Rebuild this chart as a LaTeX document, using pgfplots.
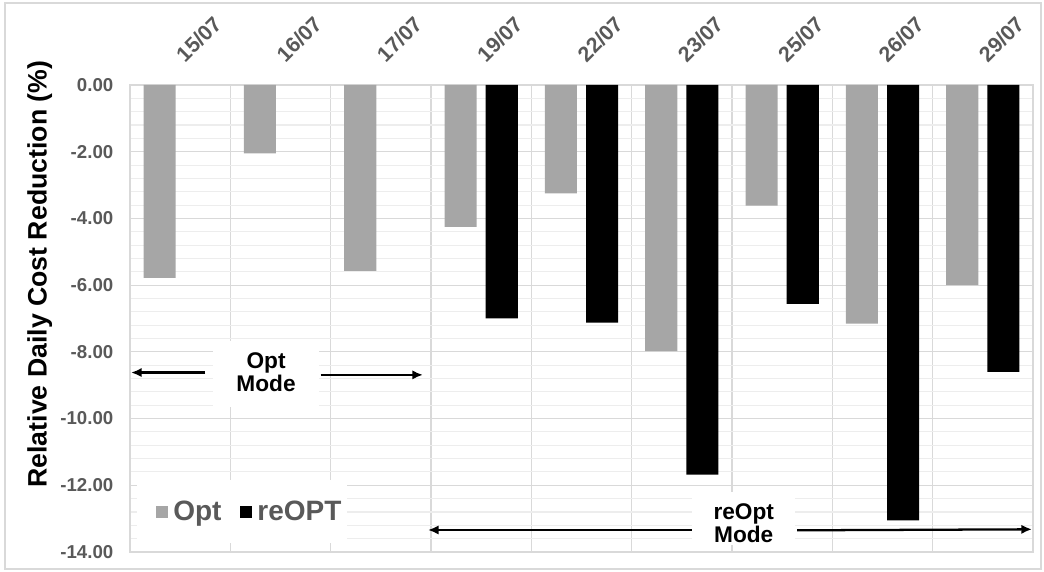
\documentclass[border=0pt]{standalone}
\usepackage{fontspec}
\setmainfont{Liberation Sans}
\usepackage{pgfplots}
\pgfplotsset{compat=1.18}
\usetikzlibrary{arrows.meta}
\definecolor{optgray}{HTML}{A6A6A6}
\definecolor{gridmaj}{HTML}{D9D9D9}
\definecolor{gridmin}{HTML}{EDEDED}
\definecolor{labgray}{HTML}{595959}
\begin{document}
\begin{tikzpicture}
\useasboundingbox (-97.5pt,-14.25pt) rectangle (685.5pt,414pt);
\draw[gridmaj, line width=0.8pt] (-93.75pt,-12.75pt) rectangle (683.25pt,411.75pt);
\begin{axis}[
  at={(0,0)}, anchor=south west,
  scale only axis, width=677.25pt, height=350.25pt,
  xmin=-0.5, xmax=8.5, ymin=-14, ymax=0,
  clip=false,
  axis line style={draw=gridmaj, line width=0.8pt},
  ybar, bar width=0.32,
  xtick={0,...,8},
  xticklabels={15/07,16/07,17/07,19/07,22/07,23/07,25/07,26/07,29/07},
  xticklabel pos=upper,
  xticklabel style={xshift=4pt, yshift=11pt, rotate=45, anchor=south west, font=\bfseries\fontsize{16}{18}\selectfont, text=labgray},
  minor xtick={-0.5,0.5,...,8.5},
  xminorgrids=true, xmajorgrids=false,
  ytick={-14,-12,...,0},
  yticklabels={-14.00,-12.00,-10.00,-8.00,-6.00,-4.00,-2.00,0.00},
  yticklabel style={font=\bfseries\fontsize{14}{16}\selectfont, text=labgray, xshift=-9pt},
  minor y tick num=4,
  ymajorgrids=true, yminorgrids=true,
  major grid style={draw=gridmaj, line width=0.8pt},
  minor grid style={draw=gridmin, line width=0.8pt},
  minor x grid style={draw=gridmaj, line width=0.8pt},
  major tick length=0pt, minor tick length=0pt,
  legend columns=2,
  legend style={at={(rel axis cs:0.024,0.0857)}, anchor=west, draw=none, fill=none,
    font=\bfseries\fontsize{21}{23}\selectfont, text=labgray,
    /tikz/every odd column/.append style={column sep=2pt},
    /tikz/every even column/.append style={column sep=12pt}},
]
\addplot[fill=optgray, draw=none, bar shift=-0.205,
  legend image code/.code={\fill[optgray] (0pt,-4.5pt) rectangle (9pt,4.5pt);}]
  coordinates {(0,-5.78) (1,-2.05) (2,-5.57) (3,-4.25) (4,-3.25) (5,-7.98) (6,-3.62) (7,-7.15) (8,-6.0)};
\addlegendentry{Opt}
\addplot[fill=black, draw=none, bar shift=0.205,
  legend image code/.code={\fill[black] (0pt,-4.5pt) rectangle (9pt,4.5pt);}]
  coordinates {(3,-7.0) (4,-7.12) (5,-11.68) (6,-6.56) (7,-13.05) (8,-8.6)};
\addlegendentry{reOPT}
% white boxes
\fill[white] (axis cs:-0.43,-11.84) rectangle (axis cs:1.663,-13.73);
\fill[white] (axis cs:0.327,-7.67) rectangle (axis cs:1.384,-9.65);
\fill[white] (axis cs:5.10,-12.2) rectangle (axis cs:6.13,-13.79);
% annotations
\node[font=\bfseries\fontsize{17}{17.5}\selectfont, align=center] at (axis cs:0.856,-8.6) {Opt\\Mode};
\draw[-{Latex[length=8pt,width=7pt]}, line width=1.7pt] (axis cs:0.25,-8.62) -- (axis cs:-0.49,-8.62);
\draw[-{Latex[length=8pt,width=7pt]}, line width=1.7pt] (axis cs:1.40,-8.69) -- (axis cs:2.42,-8.69);
\node[font=\bfseries\fontsize{17}{17.5}\selectfont, align=center] at (axis cs:5.617,-13.13) {reOpt\\Mode};
\draw[-{Latex[length=8pt,width=7pt]}, line width=1.7pt] (axis cs:5.10,-13.34) -- (axis cs:2.47,-13.34);
\draw[-{Latex[length=8pt,width=7pt]}, line width=1.7pt] (axis cs:6.15,-13.35) -- (axis cs:8.49,-13.32);
\node[rotate=90, font=\bfseries\fontsize{20}{22}\selectfont] at (axis cs:-1.40,-5.67) {Relative Daily Cost Reduction (\%)};
\end{axis}
\end{tikzpicture}
\end{document}
